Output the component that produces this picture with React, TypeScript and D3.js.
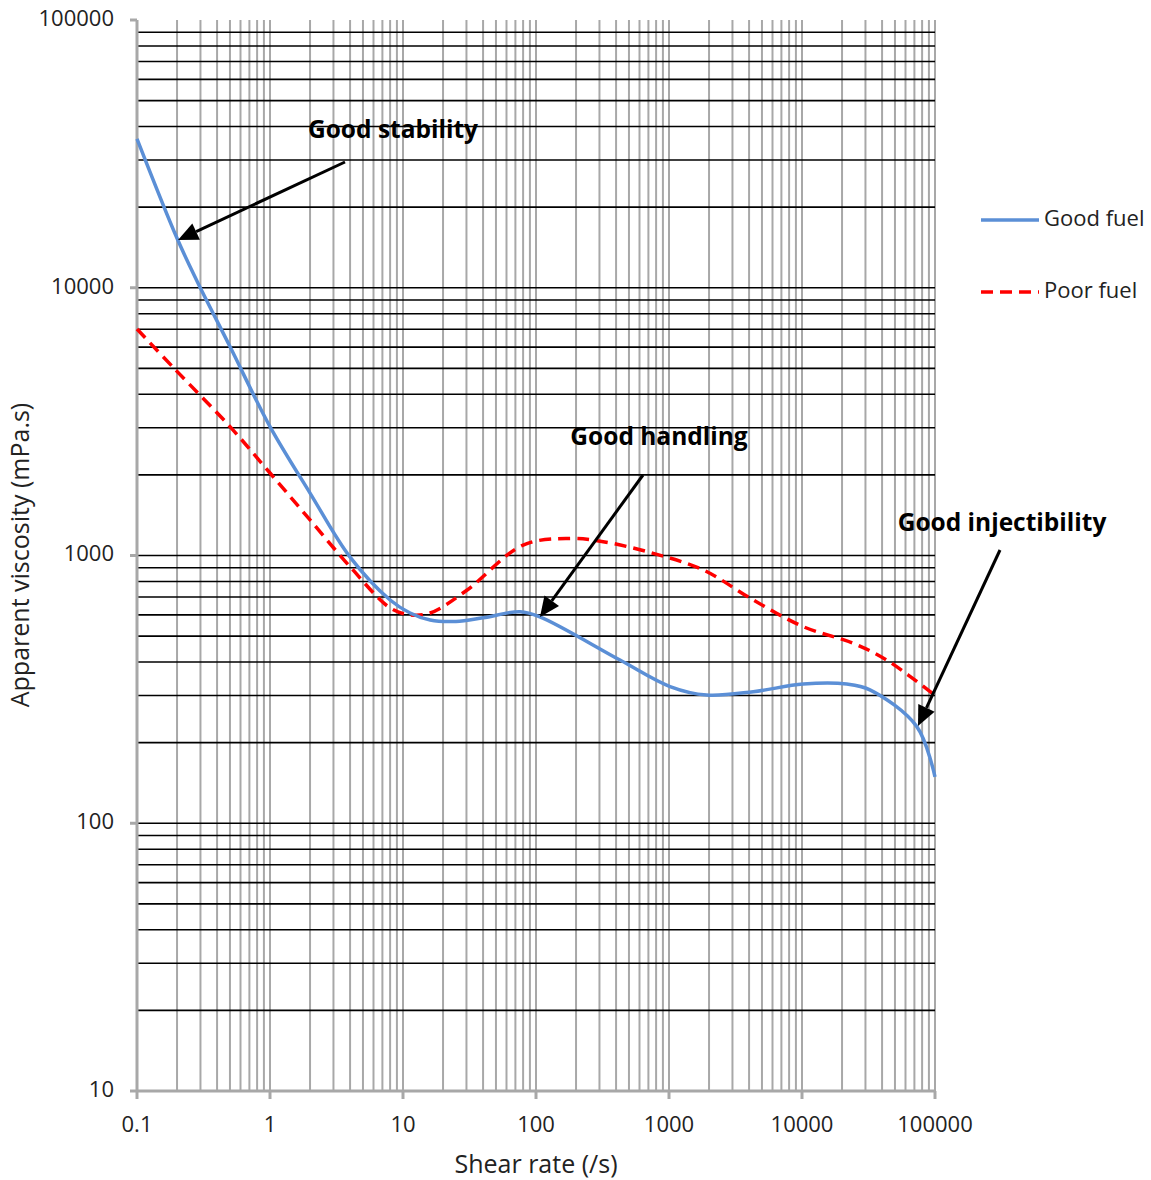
import React from "react";
import * as d3 from "d3";

const goodX = [0.1, 0.2, 0.28, 0.5, 1, 2, 4, 8, 11.3, 16, 25, 40, 76, 107, 428, 1018, 1920, 4300, 10200, 21700, 32400, 72800, 100000];
const goodY = [36000, 15300, 10690, 6030, 3030, 1711, 986, 682, 610, 574, 567, 585, 617, 590, 407, 324, 301, 310, 331, 331, 315, 230, 149];
const poorX = [0.1, 0.19, 0.5, 1, 2, 4, 8, 11.3, 16, 30, 80, 180, 320, 760, 1810, 4300, 10240, 24300, 43300, 100000];
const poorY = [7010, 5000, 3030, 2033, 1358, 908, 637, 600, 610, 740, 1094, 1158, 1126, 1019, 883, 682, 542, 470, 407, 300];
const xTicks = [0.1, 1, 10, 100, 1000, 10000, 100000];
const yTicks = [10, 100, 1000, 10000, 100000];
const seriesNames = ["Good fuel", "Poor fuel"];
const annotations = [
  { text: "Good stability", tx: 393, ty: 131, from: [345, 162], to: [178, 240] },
  { text: "Good handling", tx: 659, ty: 438, from: [643, 475], to: [540, 617] },
  { text: "Good injectibility", tx: 1002, ty: 524, from: [1000, 550], to: [918, 726] },
];

const W = 1151, H = 1180;
const L = 137, R = 935, T = 20, B = 1091;

export default function App() {
  const x = d3.scaleLog().domain([0.1, 100000]).range([L, R]);
  const y = d3.scaleLog().domain([10, 100000]).range([B, T]);

  const minorX: number[] = [];
  for (let e = -1; e < 5; e++) for (let k = 1; k <= 9; k++) minorX.push(k * Math.pow(10, e));
  minorX.push(100000);
  const minorY: number[] = [];
  for (let e = 1; e < 5; e++) for (let k = 1; k <= 9; k++) minorY.push(k * Math.pow(10, e));

  const line = d3.line<[number, number]>().x(d => x(d[0])).y(d => y(d[1])).curve(d3.curveCatmullRom.alpha(0.5));
  const good = line(goodX.map((v, i) => [v, goodY[i]] as [number, number]))!;
  const poor = line(poorX.map((v, i) => [v, poorY[i]] as [number, number]))!;

  const font = "'Open Sans', 'Noto Sans', sans-serif";
  const gray = "#a8a8a8";

  const arrow = (a: typeof annotations[0], i: number) => {
    const [x1, y1] = a.from, [x2, y2] = a.to;
    const ang = Math.atan2(y2 - y1, x2 - x1);
    const len = 20, hw = 9;
    const bx = x2 - len * Math.cos(ang), by = y2 - len * Math.sin(ang);
    const px = -Math.sin(ang), py = Math.cos(ang);
    const pts = `${x2},${y2} ${bx + hw * px},${by + hw * py} ${bx - hw * px},${by - hw * py}`;
    return (
      <g key={i}>
        <line x1={x1} y1={y1} x2={bx} y2={by} stroke="#000" strokeWidth={3} />
        <polygon points={pts} fill="#000" />
        <text x={a.tx} y={a.ty} textAnchor="middle" dominantBaseline="middle" fontFamily={font} fontWeight="bold" fontSize={24.5} fill="#000">{a.text}</text>
      </g>
    );
  };

  return (
    <svg width={W} height={H} style={{ position: "absolute", left: 0, top: 0, background: "#fff" }}>
      <rect width={W} height={H} fill="#fff" />
      {minorX.map((v, i) => (
        <line key={"vx" + i} x1={x(v)} x2={x(v)} y1={T} y2={B} stroke={gray} strokeWidth={2} />
      ))}
      {minorY.map((v, i) => (
        <line key={"hy" + i} x1={L} x2={R} y1={y(v)} y2={y(v)} stroke="#000" strokeWidth={1.6} />
      ))}
      <line x1={L} x2={L} y1={T} y2={B} stroke={gray} strokeWidth={3} />
      <line x1={L} x2={R} y1={B} y2={B} stroke={gray} strokeWidth={3} />
      {yTicks.map((v, i) => (
        <g key={"yt" + i}>
          <line x1={L - 7} x2={L} y1={y(v)} y2={y(v)} stroke={gray} strokeWidth={3} />
          <text x={114} y={y(v)} textAnchor="end" dominantBaseline="middle" fontFamily={font} fontSize={22} fill="#222">{v}</text>
        </g>
      ))}
      {xTicks.map((v, i) => (
        <g key={"xt" + i}>
          <line x1={x(v)} x2={x(v)} y1={B} y2={B + 8} stroke={gray} strokeWidth={3} />
          <text x={x(v)} y={1126} textAnchor="middle" dominantBaseline="middle" fontFamily={font} fontSize={22} fill="#222">{v}</text>
        </g>
      ))}
      <text x={536} y={1166} textAnchor="middle" dominantBaseline="middle" fontFamily={font} fontSize={25} fill="#222">Shear rate (/s)</text>
      <text transform={`translate(22,555) rotate(-90)`} textAnchor="middle" dominantBaseline="middle" fontFamily={font} fontSize={25} fill="#222">Apparent viscosity (mPa.s)</text>

      <path d={poor} fill="none" stroke="#ff0000" strokeWidth={3.5} strokeDasharray="12 7" />
      <path d={good} fill="none" stroke="#5b8fd6" strokeWidth={3.5} />

      {annotations.map(arrow)}

      <line x1={981} x2={1039} y1={220} y2={220} stroke="#5b8fd6" strokeWidth={3.5} />
      <text x={1044} y={220} dominantBaseline="middle" fontFamily={font} fontSize={22} fill="#222">{seriesNames[0]}</text>
      <line x1={981} x2={1039} y1={292} y2={292} stroke="#ff0000" strokeWidth={3.5} strokeDasharray="12 7" />
      <text x={1044} y={292} dominantBaseline="middle" fontFamily={font} fontSize={22} fill="#222">{seriesNames[1]}</text>
    </svg>
  );
}
